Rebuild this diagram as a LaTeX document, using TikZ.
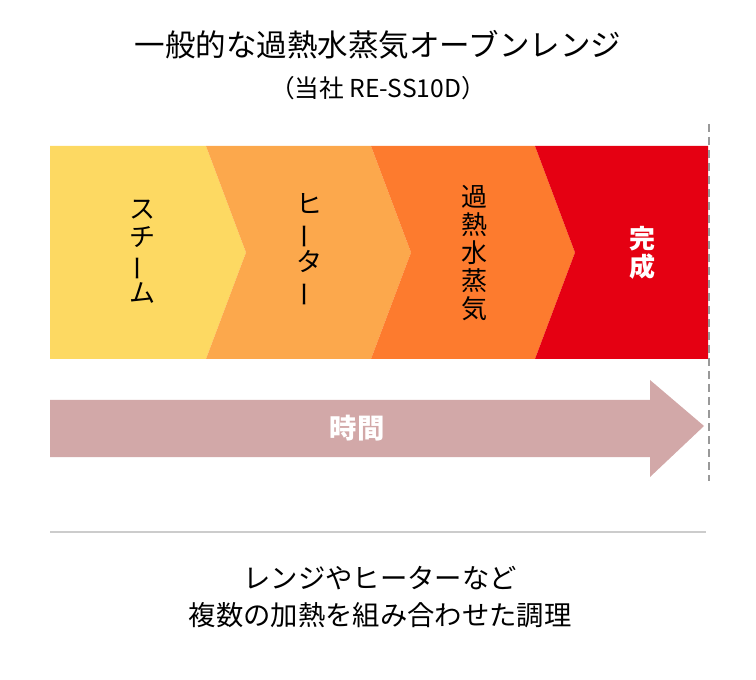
\documentclass[tikz,border=0pt]{standalone}
\usepackage{fontspec}
\setmainfont{Noto Sans CJK JP}
\usetikzlibrary{positioning}
\definecolor{steamcol}{HTML}{FDD962}
\definecolor{heatercol}{HTML}{FCA84C}
\definecolor{vaporcol}{HTML}{FD7B2E}
\definecolor{donecol}{HTML}{E50012}
\definecolor{timecol}{HTML}{D2A8A8}
\newcommand{\vlong}{\rotatebox[origin=c]{90}{ー}} % long vowel mark for vertical text
\tikzset{every node/.style={inner sep=0pt}, % Text nodes sit on their coordinates
band/.style={fill=#1, draw=none}, % One step of the chevron band
vtext/.style={ % Vertical labels in the band
align=center,
font=\fontsize{19.5pt}{21pt}\selectfont},
vbold/.style={vtext, text=white, font=\fontsize{19.5pt}{21pt}\selectfont\bfseries},
rule/.style={draw=black!20, line width=1.2pt},
limit/.style={draw=black!40, line width=1.5pt, dash pattern=on 6pt off 3.75pt}}

\begin{document}
\begin{tikzpicture}[x=0.75pt, y=-0.75pt]
    \useasboundingbox (0,0) rectangle (756,680);
    \node[font=\fontsize{22.9pt}{27pt}\selectfont] (title) at (378,45) {一般的な過熱水蒸気オーブンレンジ};
    \node[font=\fontsize{18.5pt}{22pt}\selectfont, below=12pt of title] (sub) {（当社 RE-SS10D）};
    % chevron band
    \fill[band=steamcol] (50,146) -- (206,146) -- (246,252.5) -- (206,359) -- (50,359) -- cycle;
    \fill[band=heatercol] (206,146) -- (371,146) -- (411,252.5) -- (371,359) -- (206,359) -- (246,252.5) -- cycle;
    \fill[band=vaporcol] (371,146) -- (535,146) -- (575,252.5) -- (535,359) -- (371,359) -- (411,252.5) -- cycle;
    \fill[band=donecol] (535,146) -- (708,146) -- (708,359) -- (535,359) -- (575,252.5) -- cycle;
    \node[vtext] (steam) at (142,251.5) {ス\\チ\\\vlong\\ム};
    \node[vtext] (heater) at (309,250.5) {ヒ\\\vlong\\タ\\\vlong};
    \node[vtext] (vapor) at (474,253.5) {過\\熱\\水\\蒸\\気};
    \node[vbold] (done) at (642,253) {完\\成};
    % time arrow
    \fill[timecol] (50,400) -- (650,400) -- (650,380) -- (704,426) -- (650,477) -- (650,457) -- (50,457) -- cycle;
    \node[text=white, font=\fontsize{20.5pt}{22pt}\selectfont\bfseries] (time) at (357,428) {時間};
    \coordinate (limtop) at (709,124);
    \coordinate (limbot) at (709,481);
    \draw[limit] (limtop) -- (limbot);
    \coordinate (ruleL) at (50,532);
    \coordinate (ruleR) at (706,532);
    \draw[rule] (ruleL) -- (ruleR);
    \node[font=\fontsize{20.5pt}{27.75pt}\selectfont, align=center] (note) at (380,597) {レンジやヒーターなど\\複数の加熱を組み合わせた調理};
\end{tikzpicture}
\end{document}
